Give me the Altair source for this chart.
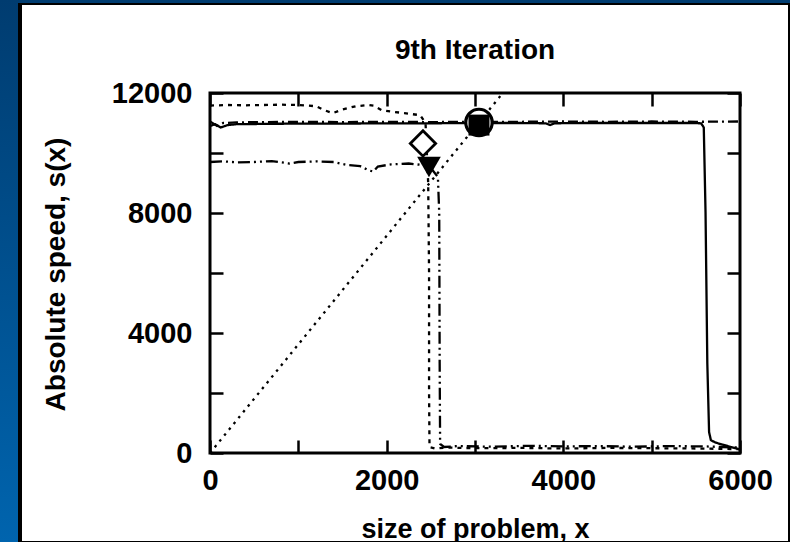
import altair as alt
import pandas as pd

# ---------------- data ----------------
a_x = [0, 60, 120, 200, 300, 600, 1000, 1500, 2000, 2500, 3000, 3500, 3800, 3850, 3900, 4200, 4600, 5000, 5400, 5560, 5590, 5610, 5630, 5650, 5670, 5720, 5800, 5900, 6000]
a_y = [10900, 10960, 10850, 10930, 10960, 10970, 10980, 10980, 10990, 10990, 11000, 11000, 10990, 10930, 10990, 11000, 11000, 11000, 11000, 10990, 10850, 8000, 3000, 700, 430, 350, 280, 200, 120]

b_x = [0, 80, 150, 300, 600, 1000, 1500, 2000, 2500, 3000, 3500, 4000, 4500, 5000, 5500, 6000]
b_y = [11050, 10900, 11000, 11020, 11030, 11040, 11030, 11040, 11030, 11040, 11040, 11050, 11040, 11050, 11040, 11050]

c_x = [0, 200, 400, 600, 800, 1000, 1200, 1300, 1390, 1500, 1650, 1800, 1850, 1950, 2050, 2200, 2380, 2440, 2470, 2480, 2480, 2485, 2550, 2700, 3000, 3500, 4000, 4500, 5000, 5500, 6000]
c_y = [11580, 11600, 11590, 11600, 11610, 11600, 11560, 11420, 11330, 11450, 11560, 11600, 11580, 11420, 11380, 11330, 11260, 11000, 9000, 6000, 2000, 200, 150, 180, 160, 170, 150, 170, 160, 150, 130]

d_x = [0, 150, 300, 500, 700, 900, 1000, 1200, 1400, 1550, 1700, 1800, 1850, 1900, 2050, 2250, 2400, 2500, 2580, 2595, 2600, 2605, 2650, 2800, 3200, 3600, 4000, 4400, 4800, 5200, 5600, 5800, 6000]
d_y = [9700, 9720, 9690, 9700, 9730, 9650, 9700, 9720, 9700, 9600, 9560, 9420, 9380, 9550, 9620, 9650, 9600, 9500, 9200, 8000, 3000, 300, 200, 230, 210, 240, 220, 230, 210, 230, 220, 200, 180]

e_x = [0, 3315]
e_y = [0, 12000]

series_names = ["A", "B", "C", "D", "E"]
series_dash = [[1, 0], [10, 4, 2, 4], [4, 5], [12, 4, 2, 4, 2, 4], [2.5, 5]]

marker_shape = ["square", "circle", "diamond", "triangle-down"]
marker_x = [3045, 3045, 2411, 2479]
marker_y = [10930, 11017, 10317, 9533]

x_ticks = [0, 1000, 2000, 3000, 4000, 5000, 6000]
y_ticks = [0, 2000, 4000, 6000, 8000, 10000, 12000]

rows = []
for name, xs, ys in zip(series_names, [a_x, b_x, c_x, d_x, e_x], [a_y, b_y, c_y, d_y, e_y]):
    for i, (xv, yv) in enumerate(zip(xs, ys)):
        rows.append({"series": name, "x": xv, "y": yv, "i": i})
df = pd.DataFrame(rows)
mk = pd.DataFrame({"shape": marker_shape, "x": marker_x, "y": marker_y})
one = pd.DataFrame({"k": [0]})

FONT = "Liberation Sans"
W, H = 530, 360

xscale = alt.Scale(domain=[0, 6000], nice=False, zero=False)
yscale = alt.Scale(domain=[0, 12000], nice=False)

common_axis = dict(offset=-13, tickSize=13, tickWidth=2.5, tickColor="black",
                   domain=False, grid=False, zindex=1)

bottom_axis = alt.Axis(orient="bottom", values=x_ticks, format="d",
                       labelExpr="datum.value % 2000 == 0 ? datum.label : ''",
                       labelFont=FONT, labelFontSize=29, labelFontWeight="bold",
                       labelColor="black", labelPadding=13, labelFlush=False,
                       labelOverlap=False, labelBound=False,
                       title="size of problem, x", titleFont=FONT, titleFontSize=27,
                       titleFontWeight="bold", titleColor="black",
                       titleBaseline="alphabetic", titleY=97, **common_axis)
left_axis = alt.Axis(orient="left", values=y_ticks, format="d",
                     labelExpr="datum.value % 4000 == 0 ? datum.label : ''",
                     labelFont=FONT, labelFontSize=29, labelFontWeight="bold",
                     labelColor="black", labelPadding=18, labelFlush=False,
                     labelOverlap=False, labelBound=False,
                     title="Absolute speed, s(x)", titleFont=FONT, titleFontSize=28,
                     titleFontWeight="bold", titleColor="black", titleAngle=270,
                     titleBaseline="alphabetic", titleAlign="center",
                     titleX=-159, titleY=181, **common_axis)
top_axis = alt.Axis(orient="top", values=x_ticks, labels=False, title=None, **common_axis)
right_axis = alt.Axis(orient="right", values=y_ticks, labels=False, title=None, **common_axis)

blue = alt.Chart(one).mark_rect(
    color=alt.Gradient(gradient="linear",
                       stops=[alt.GradientStop(color="#003c70", offset=0),
                              alt.GradientStop(color="#0064ae", offset=1)],
                       x1=0, x2=0, y1=0, y2=1)
).encode(x=alt.value(-210), x2=alt.value(580), y=alt.value(-93), y2=alt.value(449))

panel_border = alt.Chart(one).mark_rect(color="black").encode(
    x=alt.value(-192), x2=alt.value(580), y=alt.value(-90), y2=alt.value(449))
panel = alt.Chart(one).mark_rect(color="white").encode(
    x=alt.value(-188), x2=alt.value(578), y=alt.value(-88), y2=alt.value(448))

lines = alt.Chart(df).mark_line(strokeWidth=2.3, color="black", clip=True, strokeCap="butt").encode(
    x=alt.X("x:Q", scale=xscale, axis=bottom_axis),
    y=alt.Y("y:Q", scale=yscale, axis=left_axis),
    detail="series:N",
    strokeDash=alt.StrokeDash("series:N", scale=alt.Scale(domain=series_names, range=series_dash), legend=None),
    order=alt.Order("i:Q"),
)

mk_circle_bg = alt.Chart(mk).transform_filter("datum.shape == 'circle'").mark_point(
    shape="circle", filled=True, color="white", size=676, opacity=1
).encode(x=alt.X("x:Q", scale=xscale, axis=top_axis), y=alt.Y("y:Q", scale=yscale, axis=right_axis))

mk_square = alt.Chart(mk).transform_filter("datum.shape == 'square'").mark_point(
    shape="square", filled=True, color="black", size=440, opacity=1
).encode(x=alt.X("x:Q", scale=xscale, axis=None), y=alt.Y("y:Q", scale=yscale, axis=None))

mk_circle = alt.Chart(mk).transform_filter("datum.shape == 'circle'").mark_point(
    shape="circle", filled=False, stroke="black", strokeWidth=3.2, size=700, opacity=1
).encode(x=alt.X("x:Q", scale=xscale, axis=None), y=alt.Y("y:Q", scale=yscale, axis=None))

mk_diamond = alt.Chart(mk).transform_filter("datum.shape == 'diamond'").mark_point(
    shape="diamond", filled=True, fill="white", stroke="black", strokeWidth=2.8, size=640, opacity=1
).encode(x=alt.X("x:Q", scale=xscale, axis=None), y=alt.Y("y:Q", scale=yscale, axis=None))

mk_tri = alt.Chart(mk).transform_filter("datum.shape == 'triangle-down'").mark_point(
    shape="triangle-down", filled=True, color="black", size=560, opacity=1
).encode(x=alt.X("x:Q", scale=xscale, axis=None), y=alt.Y("y:Q", scale=yscale, axis=None))

frame = alt.Chart(one).mark_rect(fill="transparent", stroke="black", strokeWidth=3).encode(
    x=alt.value(0), x2=alt.value(W), y=alt.value(0), y2=alt.value(H))

chart = alt.layer(
    blue, panel_border, panel, lines, mk_circle_bg, mk_square, mk_circle, mk_diamond, mk_tri, frame
).resolve_axis(x="independent", y="independent").properties(
    width=W, height=H,
    padding={"left": 210, "top": 93, "right": 50, "bottom": 89},
    autosize=alt.AutoSizeParams(type="none"),
    title=alt.TitleParams("9th Iteration", font=FONT, fontSize=28, fontWeight="bold",
                          color="black", anchor="middle", frame="group",
                          baseline="alphabetic", offset=0, dy=87),
).configure_view(stroke="transparent")

chart.save("out.html", embed_options={"renderer": "svg", "actions": False})
